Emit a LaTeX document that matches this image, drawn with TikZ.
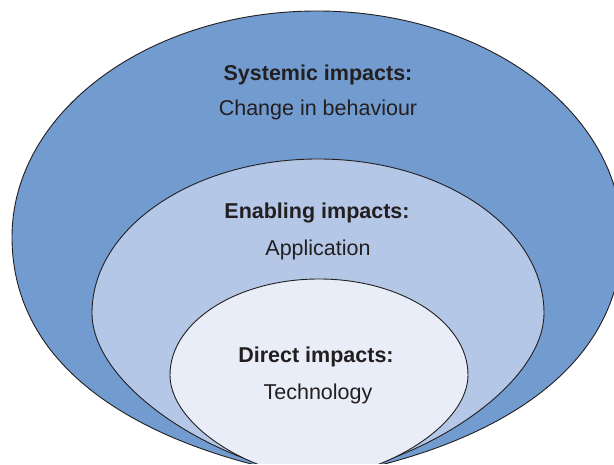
\documentclass[tikz,border=0pt]{standalone}
\usepackage{fontspec}
\setmainfont{Liberation Sans}
\usepackage{tikz}
\usetikzlibrary{positioning}
\definecolor{sysblue}{RGB}{114,155,207}
\definecolor{enablue}{RGB}{180,199,231}
\definecolor{dirblue}{RGB}{232,237,247}
\definecolor{inkgray}{RGB}{35,31,32}

\begin{document}
\begin{tikzpicture}[x=1pt,y=1pt,egg/.style={draw=inkgray,line width=0.9pt},head/.style={inkgray,font=\fontsize{21.5}{24}\selectfont\bfseries,anchor=base,inner sep=0pt},sub/.style={inkgray,font=\fontsize{21.5}{24}\selectfont,anchor=base,inner sep=0pt}]
  \useasboundingbox (0,0) rectangle (614,464);
  \clip (0,0) rectangle (614,464);
  \coordinate (sysL) at (12,227);
  \coordinate (sysP) at (318,-14);
  \coordinate (enaL) at (92,151);
  \coordinate (enaP) at (318,-14);
  \coordinate (dirL) at (170,89);
  \coordinate (dirP) at (318,-14);
  \filldraw[egg,fill=sysblue](sysL) arc[start angle=180,end angle=0,x radius=305,y radius=226] .. controls (622,80) and (466,10) .. (sysP) .. controls (170,10) and (12,80) .. (sysL) -- cycle;
  \filldraw[egg,fill=enablue](enaL) arc[start angle=180,end angle=0,x radius=226,y radius=154] .. controls (544,80) and (427,2) .. (enaP) .. controls (209,2) and (92,80) .. (enaL) -- cycle;
  \filldraw[egg,fill=dirblue](dirL) arc[start angle=180,end angle=0,x radius=149,y radius=96] .. controls (468,40) and (388,-10) .. (dirP) .. controls (248,-10) and (170,40) .. (dirL) -- cycle;
  \node[head] (sys) at (318,383) {Systemic impacts:};
  \node[sub] (sysdesc) at (318,348) {Change in behaviour};
  \node[head] (ena) at (317,245) {Enabling impacts:};
  \node[sub] (enadesc) at (318,208) {Application};
  \node[head] (dir) at (316,101) {Direct impacts:};
  \node[sub] (dirdesc) at (318,64) {Technology};
\end{tikzpicture}
\end{document}
